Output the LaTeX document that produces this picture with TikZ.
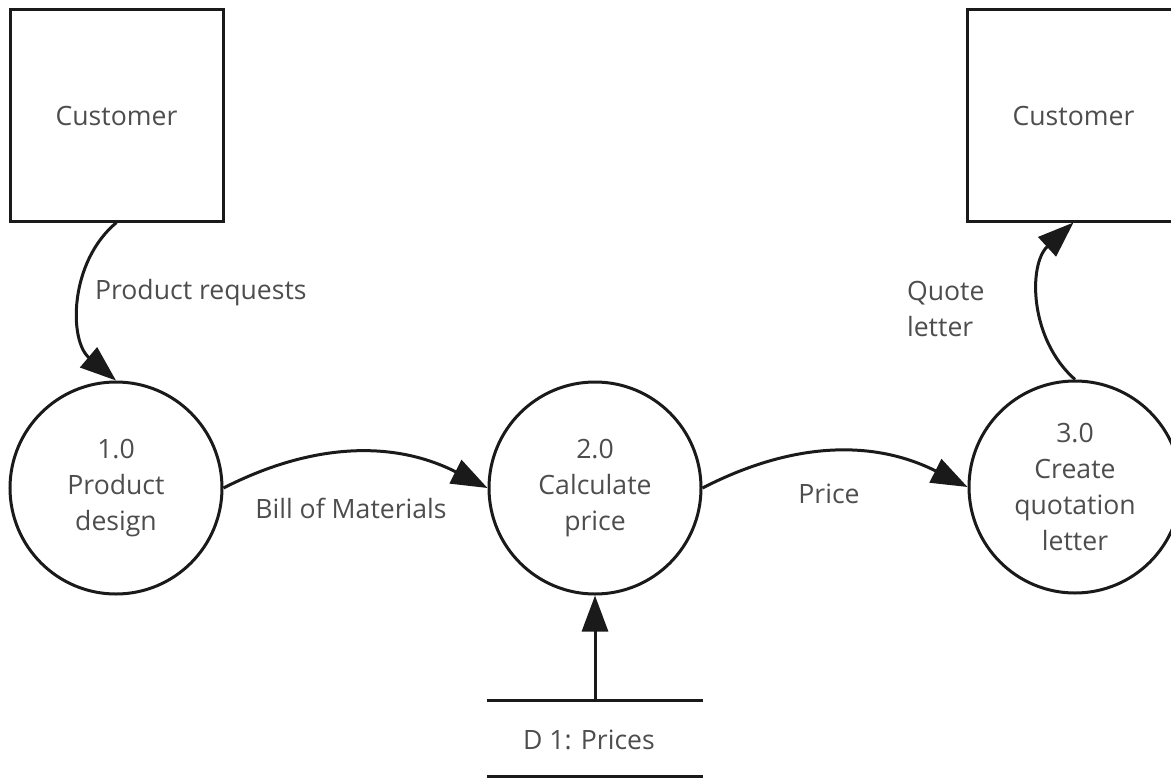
\documentclass[tikz,border=0pt]{standalone}
\usepackage{fontspec}
\setmainfont{Open Sans}
\usetikzlibrary{arrows.meta}
\definecolor{ink}{HTML}{1A1A1A}
\definecolor{txt}{HTML}{4D4D4D}
\begin{document}
\begin{tikzpicture}[x=0.5pt,y=-0.5pt,
  every node/.style={font=\fontsize{13.3}{18}\selectfont, text=txt},
  entity/.style={draw=ink, line width=1.5pt, minimum width=106.5pt, minimum height=105.5pt, inner sep=0pt},
  process/.style={draw=ink, line width=1.5pt, circle, minimum size=106pt, inner sep=0pt, align=center},
  flow/.style={draw=ink, line width=1.5pt, -{Triangle[length=18pt,width=13pt]}},
  store/.style={minimum width=108pt, minimum height=37.5pt, inner sep=0pt}]
\useasboundingbox (0,0) rectangle (1171,781);
\clip (0,0) rectangle (1171,781);

% external entities
\node[entity] (cust1) at (116.5,115.5) {Customer};
\node[entity] (cust2) at (1073.5,115.5) {Customer};

% processes
\node[process] (p1) at (116,488) {1.0\\Product\\design};
\node[process] (p2) at (595,488) {2.0\\Calculate\\price};
\node[process] (p3) at (1075,487) {3.0\\Create\\quotation\\letter};

% data store
\node[store] (d1) at (595,738.5) {};
\draw[ink, line width=1.5pt] (d1.north west) -- (d1.north east);
\draw[ink, line width=1.5pt] (d1.south west) -- (d1.south east);
\node (d1t) at (589,740) {D 1: Prices};

% data flows
\draw[flow] (cust1.south) to[bend right=50] (p1.north);
\draw[flow] (p1.east) to[bend left=27] (p2.west);
\draw[flow] (p2.east) to[bend left=27] (p3.west);
\draw[flow] (p3.north) to[bend left=48] (cust2.south);
\draw[flow] (d1.north) -- (p2.south);

% flow labels
\node[anchor=west] (l1) at (88,293) {Product requests};
\node (l2) at (351,508) {Bill of Materials};
\node (l3) at (829,494) {Price};
\node[anchor=west, align=left] (l4) at (900,309) {Quote\\letter};
\end{tikzpicture}
\end{document}
